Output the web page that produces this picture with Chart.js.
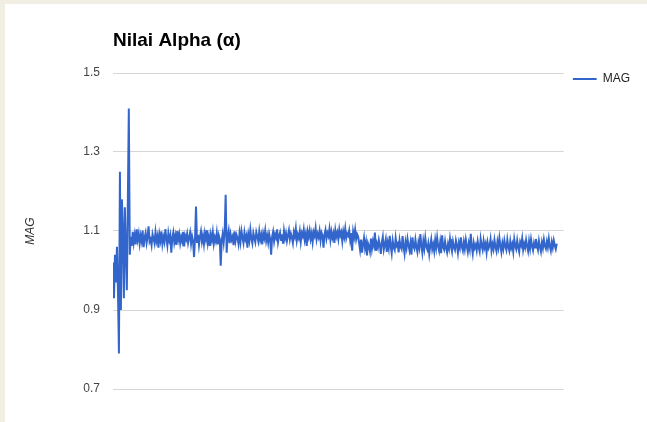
<!DOCTYPE html>
<html>
<head>
<meta charset="utf-8">
<script src="https://cdn.jsdelivr.net/npm/chart.js@4.4.1/dist/chart.umd.min.js"></script>
<style>
  html, body { margin: 0; padding: 0; background: #f1eee4; }
  #wrap { position: absolute; left: 5px; top: 4px; width: 642px; height: 418px; background: #fff; }
</style>
</head>
<body>
<div id="wrap"><canvas id="alphaChart" width="642" height="418"></canvas></div>
<script>
// data
const seriesName = 'MAG';
const chartTitle = 'Nilai Alpha (\u03b1)';
const yTicks = [0.7, 0.9, 1.1, 1.3, 1.5];

// awal: masih berosilasi besar
const magStart = [
  1.02, 0.93, 1.04, 0.97, 1.06, 0.95, 0.79, 1.25, 0.90, 1.18,
  1.10, 0.93, 1.16, 1.05, 0.95, 1.17, 1.41, 1.04
];
// tengah: sekitar 1.08
const magMiddle = [
  1.085, 1.062, 1.098, 1.071, 1.090, 1.066, 1.104, 1.078, 1.093, 1.068,
  1.088, 1.074, 1.101, 1.059, 1.083, 1.095, 1.070, 1.086, 1.112, 1.073,
  1.079, 1.064, 1.092, 1.081, 1.069, 1.097, 1.075, 1.087, 1.058, 1.091,
  1.076, 1.099, 1.067, 1.084, 1.072, 1.105, 1.080, 1.063, 1.094, 1.077,
  1.089, 1.045, 1.082, 1.096, 1.071, 1.087, 1.065, 1.100, 1.078, 1.092,
  1.069, 1.085, 1.074, 1.098, 1.061, 1.088, 1.079, 1.093, 1.070, 1.083,
  1.096, 1.068, 1.087, 1.075, 1.034, 1.081, 1.162, 1.072, 1.090, 1.064,
  1.085, 1.099, 1.073, 1.088, 1.067, 1.094, 1.079, 1.102, 1.070, 1.086,
  1.062, 1.091, 1.077, 1.097, 1.068, 1.084, 1.074, 1.095, 1.066, 1.089,
  1.080, 1.012, 1.076, 1.093, 1.071, 1.098, 1.192, 1.045, 1.087, 1.101,
  1.069, 1.092, 1.078, 1.086, 1.064, 1.099, 1.075, 1.090, 1.082, 1.067,
  1.094, 1.073, 1.100, 1.084, 1.070, 1.096, 1.079, 1.088, 1.058, 1.091,
  1.076, 1.103, 1.081, 1.069, 1.095, 1.083, 1.072, 1.097, 1.086, 1.074,
  1.099, 1.078, 1.090, 1.066, 1.094, 1.082, 1.101, 1.075, 1.088, 1.071,
  1.093, 1.080, 1.040, 1.085, 1.098, 1.074, 1.091, 1.083, 1.104, 1.072,
  1.087, 1.096, 1.077, 1.092, 1.068, 1.100, 1.081, 1.094, 1.075, 1.089,
  1.102, 1.079, 1.093, 1.084, 1.070, 1.097, 1.086, 1.106, 1.076, 1.091,
  1.082, 1.099, 1.073, 1.095, 1.087, 1.104, 1.078, 1.092, 1.062, 1.098,
  1.085, 1.101, 1.080, 1.094, 1.072, 1.097, 1.088, 1.107, 1.079, 1.093,
  1.084, 1.100, 1.076, 1.096, 1.089, 1.058, 1.091, 1.103, 1.081, 1.095,
  1.087, 1.105, 1.078, 1.098, 1.083, 1.094, 1.070, 1.102, 1.086, 1.096,
  1.080, 1.104, 1.089, 1.097, 1.074, 1.099, 1.085, 1.106, 1.082, 1.093,
  1.088, 1.101, 1.077, 1.095, 1.050, 1.098, 1.084, 1.103, 1.079, 1.092,
  1.086
];
// akhir: turun ke sekitar 1.06
const magEnd = [
  1.070, 1.052, 1.078, 1.045, 1.066, 1.083, 1.057, 1.072, 1.038, 1.069,
  1.061, 1.048, 1.081, 1.055, 1.074, 1.063, 1.096, 1.050, 1.068, 1.058,
  1.077, 1.064, 1.042, 1.071, 1.085, 1.053, 1.066, 1.079, 1.047, 1.070,
  1.056, 1.088, 1.062, 1.044, 1.075, 1.059, 1.052, 1.082, 1.063, 1.068,
  1.046, 1.076, 1.060, 1.054, 1.087, 1.061, 1.043, 1.072, 1.057, 1.080,
  1.064, 1.051, 1.069, 1.040, 1.084, 1.062, 1.055, 1.078, 1.060, 1.047,
  1.071, 1.058, 1.092, 1.063, 1.045, 1.074, 1.056, 1.082, 1.061, 1.053,
  1.068, 1.042, 1.063, 1.079, 1.054, 1.066, 1.049, 1.077, 1.058, 1.083,
  1.062, 1.050, 1.071, 1.044, 1.089, 1.060, 1.053, 1.074, 1.057, 1.046,
  1.067, 1.055, 1.080, 1.061, 1.048, 1.073, 1.059, 1.052, 1.076, 1.064,
  1.045, 1.070, 1.058, 1.084, 1.060, 1.050, 1.072, 1.055, 1.078, 1.062,
  1.047, 1.068, 1.054, 1.093, 1.061, 1.043, 1.070, 1.057, 1.065, 1.051,
  1.074, 1.059, 1.048, 1.080, 1.063, 1.052, 1.075, 1.058, 1.068, 1.046,
  1.071, 1.056, 1.062, 1.079, 1.050, 1.066, 1.054, 1.077, 1.060, 1.049,
  1.073, 1.058, 1.082, 1.063, 1.047, 1.069, 1.055, 1.076, 1.061, 1.052,
  1.078, 1.060, 1.050, 1.074, 1.057, 1.067, 1.048, 1.079, 1.062, 1.054,
  1.076, 1.059, 1.047, 1.072, 1.064, 1.081, 1.053, 1.068, 1.058, 1.077,
  1.061, 1.049, 1.074, 1.056, 1.079, 1.062, 1.051, 1.070, 1.058, 1.080,
  1.063, 1.052, 1.075, 1.060, 1.048, 1.071, 1.057, 1.078, 1.062, 1.055,
  1.073, 1.059, 1.080, 1.061, 1.050, 1.072, 1.058, 1.076, 1.063, 1.054,
  1.068
];

const magValues = magStart.concat(magMiddle, magEnd);
const points = magValues.map((v, i) => ({ x: i, y: v }));

// judul di atas area grafik (rata kiri dengan area plot)
const titlePlugin = {
  id: 'leftTitle',
  afterLayout(chart) {
    // geser legenda sedikit ke kanan dari area plot
    if (chart.legend) {
      chart.legend.left += 9;
      chart.legend.right += 9;
    }
  },
  afterDraw(chart) {
    const c = chart.ctx;
    c.save();
    c.font = 'bold 19px "Liberation Sans", Arial, sans-serif';
    c.fillStyle = '#000';
    c.textBaseline = 'middle';
    c.fillText(chartTitle, chart.chartArea.left, 37);
    c.restore();
  }
};

const ctx = document.getElementById('alphaChart').getContext('2d');
new Chart(ctx, {
  type: 'line',
  data: {
    datasets: [{
      label: seriesName,
      data: points,
      borderColor: '#3366cc',
      backgroundColor: '#3366cc',
      borderWidth: 2,
      pointRadius: 0,
      tension: 0,
      fill: false,
    }],
  },
  plugins: [titlePlugin],
  options: {
    responsive: false,
    animation: false,
    layout: { padding: { top: 69, bottom: 33, left: 0, right: 16 } },
    plugins: {
      tooltip: { enabled: false },
      legend: {
        position: 'right',
        align: 'start',
        labels: {
          usePointStyle: true,
          pointStyle: 'line',
          pointStyleWidth: 24,
          boxWidth: 24,
          padding: 0,
          color: '#222',
          font: { family: '"Liberation Sans", Arial, sans-serif', size: 12 },
        },
      },
    },
    scales: {
      x: {
        type: 'linear',
        display: false,
        min: 0,
        max: 456,
      },
      y: {
        min: 0.7,
        max: 1.5,
        afterBuildTicks: axis => { axis.ticks = yTicks.map(v => ({ value: v })); },
        afterFit: axis => { axis.width = 108; },
        border: { display: false },
        grid: { color: '#d6d6d6', drawTicks: false },
        ticks: {
          padding: 13,
          color: '#444',
          font: { family: '"Liberation Sans", Arial, sans-serif', size: 12 },
          callback: v => v.toFixed(1),
        },
        title: {
          display: true,
          text: 'MAG',
          color: '#333',
          padding: { top: 18, bottom: 0 },
          font: { family: '"Liberation Sans", Arial, sans-serif', size: 12, style: 'italic' },
        },
      },
    },
  },
});
</script>
</body>
</html>
